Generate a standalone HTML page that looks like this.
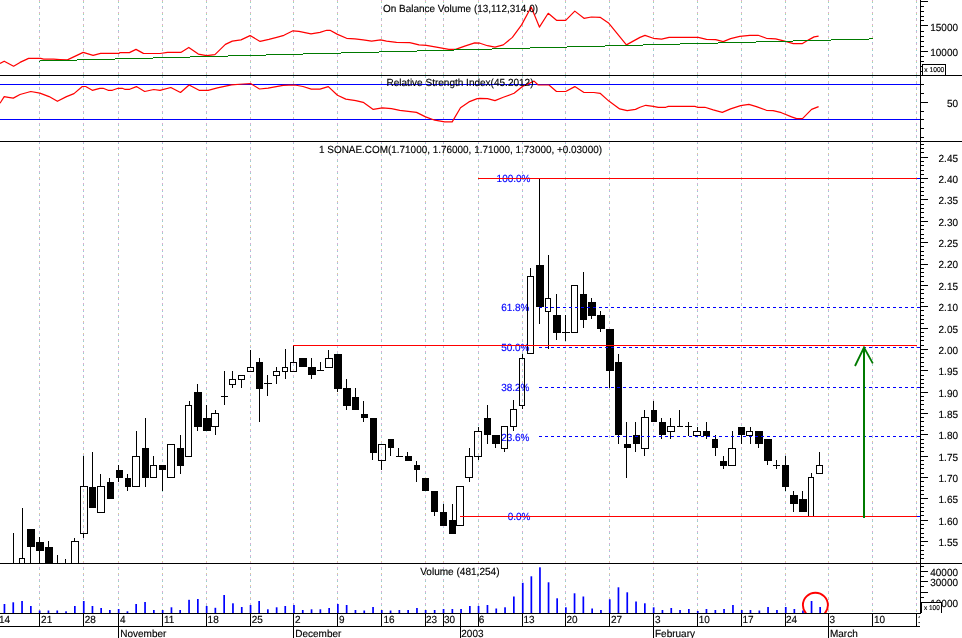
<!DOCTYPE html>
<html><head><meta charset="utf-8"><title>SONAE.COM chart</title>
<style>html,body{margin:0;padding:0;background:#fff}svg{display:block}svg{will-change:transform}text{white-space:pre}</style></head>
<body>
<svg width="962" height="638" viewBox="0 0 962 638" font-family='"Liberation Sans", Arial, sans-serif' text-rendering="geometricPrecision">
<defs><pattern id="g1" patternUnits="userSpaceOnUse" width="1" height="12"><rect width="1" height="1" y="0" fill="#dca6dc"/><rect width="1" height="1" y="1" fill="#d6d694"/><rect width="1" height="1" y="2" fill="#92d2d2"/><rect width="1" height="1" y="6" fill="#92d2d2"/><rect width="1" height="1" y="7" fill="#dca6dc"/><rect width="1" height="1" y="8" fill="#c4c4c4"/></pattern><pattern id="g2" patternUnits="userSpaceOnUse" width="1" height="12" patternTransform="translate(0 3)"><rect width="1" height="1" y="0" fill="#dca6dc"/><rect width="1" height="1" y="1" fill="#c4c4c4"/><rect width="1" height="1" y="2" fill="#92d2d2"/><rect width="1" height="1" y="6" fill="#d6d694"/><rect width="1" height="1" y="7" fill="#dca6dc"/><rect width="1" height="1" y="8" fill="#92d2d2"/></pattern><clipPath id="cm"><rect x="0" y="142" width="920" height="421"/></clipPath><clipPath id="cv"><rect x="0" y="564" width="920" height="49"/></clipPath></defs>
<rect width="962" height="638" fill="#fff"/>
<rect x="39" y="0" width="1" height="75" fill="url(#g1)"/><rect x="39" y="75" width="1" height="538" fill="url(#g2)"/>
<rect x="83" y="0" width="1" height="75" fill="url(#g1)"/><rect x="83" y="75" width="1" height="538" fill="url(#g2)"/>
<rect x="118" y="0" width="1" height="75" fill="url(#g1)"/><rect x="118" y="75" width="1" height="538" fill="url(#g2)"/>
<rect x="162" y="0" width="1" height="75" fill="url(#g1)"/><rect x="162" y="75" width="1" height="538" fill="url(#g2)"/>
<rect x="206" y="0" width="1" height="75" fill="url(#g1)"/><rect x="206" y="75" width="1" height="538" fill="url(#g2)"/>
<rect x="250" y="0" width="1" height="75" fill="url(#g1)"/><rect x="250" y="75" width="1" height="538" fill="url(#g2)"/>
<rect x="293" y="0" width="1" height="75" fill="url(#g1)"/><rect x="293" y="75" width="1" height="538" fill="url(#g2)"/>
<rect x="337" y="0" width="1" height="75" fill="url(#g1)"/><rect x="337" y="75" width="1" height="538" fill="url(#g2)"/>
<rect x="381" y="0" width="1" height="75" fill="url(#g1)"/><rect x="381" y="75" width="1" height="538" fill="url(#g2)"/>
<rect x="425" y="0" width="1" height="75" fill="url(#g1)"/><rect x="425" y="75" width="1" height="538" fill="url(#g2)"/>
<rect x="443" y="0" width="1" height="75" fill="url(#g1)"/><rect x="443" y="75" width="1" height="538" fill="url(#g2)"/>
<rect x="478" y="0" width="1" height="75" fill="url(#g1)"/><rect x="478" y="75" width="1" height="538" fill="url(#g2)"/>
<rect x="522" y="0" width="1" height="75" fill="url(#g1)"/><rect x="522" y="75" width="1" height="538" fill="url(#g2)"/>
<rect x="565" y="0" width="1" height="75" fill="url(#g1)"/><rect x="565" y="75" width="1" height="538" fill="url(#g2)"/>
<rect x="609" y="0" width="1" height="75" fill="url(#g1)"/><rect x="609" y="75" width="1" height="538" fill="url(#g2)"/>
<rect x="653" y="0" width="1" height="75" fill="url(#g1)"/><rect x="653" y="75" width="1" height="538" fill="url(#g2)"/>
<rect x="697" y="0" width="1" height="75" fill="url(#g1)"/><rect x="697" y="75" width="1" height="538" fill="url(#g2)"/>
<rect x="741" y="0" width="1" height="75" fill="url(#g1)"/><rect x="741" y="75" width="1" height="538" fill="url(#g2)"/>
<rect x="785" y="0" width="1" height="75" fill="url(#g1)"/><rect x="785" y="75" width="1" height="538" fill="url(#g2)"/>
<rect x="828" y="0" width="1" height="75" fill="url(#g1)"/><rect x="828" y="75" width="1" height="538" fill="url(#g2)"/>
<rect x="872" y="0" width="1" height="75" fill="url(#g1)"/><rect x="872" y="75" width="1" height="538" fill="url(#g2)"/>
<rect x="916" y="0" width="1" height="75" fill="url(#g1)"/><rect x="916" y="75" width="1" height="538" fill="url(#g2)"/>
<polyline fill="none" stroke="#ff0000" stroke-width="1.2" stroke-linejoin="round" points="0.0,63.5 4.2,61.2 13.6,66.2 20.0,62.4 28.6,58.4 40.7,58.4 43.6,59.2 53.6,59.2 60.0,59.6 67.4,59.9 83.2,52.4 93.1,55.4 100.6,53.4 118.9,53.4 120.0,52.6 129.4,52.6 136.0,49.4 143.4,53.4 160.0,53.5 167.5,52.4 180.8,52.4 188.8,47.4 198.3,54.1 206.6,55.7 214.9,54.6 225.4,44.4 232.3,41.1 241.0,39.9 250.1,35.6 260.1,41.4 268.9,39.4 276.7,37.3 283.9,35.3 293.0,30.8 298.9,31.3 311.0,33.8 320.0,32.4 326.7,30.3 330.0,30.3 337.5,34.4 346.6,38.3 354.9,38.8 363.2,39.9 371.6,41.1 380.7,39.9 386.5,41.1 396.5,42.4 409.8,42.6 419.0,44.9 426.4,45.4 436.4,47.1 448.9,49.4 455.6,49.4 464.7,46.1 474.7,42.9 480.0,43.2 487.5,45.7 495.0,47.2 503.3,44.9 512.4,37.4 521.6,24.9 531.2,7.0 539.4,27.1 548.2,13.3 556.5,20.3 565.7,20.3 574.8,11.1 584.0,18.3 591.4,17.0 600.1,17.3 608.9,23.3 626.4,44.9 640.0,37.4 645.0,35.4 653.3,38.3 661.6,39.1 669.1,37.4 698.2,37.4 706.5,39.4 715.7,39.6 723.2,41.6 730.6,38.6 739.8,36.3 749.8,35.3 758.1,35.3 766.4,38.3 775.6,38.8 784.7,41.2 793.3,43.6 802.5,43.6 809.1,39.6 814.1,36.9 818.6,36.1"/>
<path fill="#007a00" shape-rendering="crispEdges" d="M39 61h1v1.2h-1zM40 60h37v1.2h-37zM77 59h38v1.2h-38zM115 58h38v1.2h-38zM153 57h37v1.2h-37zM190 56h38v1.2h-38zM228 55h38v1.2h-38zM266 54h37v1.2h-37zM303 53h38v1.2h-38zM341 52h38v1.2h-38zM379 51h38v1.2h-38zM417 50h37v1.2h-37zM454 49h38v1.2h-38zM492 48h38v1.2h-38zM530 47h37v1.2h-37zM567 46h38v1.2h-38zM605 45h38v1.2h-38zM643 44h37v1.2h-37zM680 43h38v1.2h-38zM718 42h38v1.2h-38zM756 41h37v1.2h-37zM793 40h38v1.2h-38zM831 39h38v1.2h-38zM869 38h4v1.2h-4z"/>
<g shape-rendering="crispEdges"><rect x="0" y="84" width="920" height="1" fill="#0000ff"/><rect x="0" y="119" width="920" height="1" fill="#0000ff"/></g>
<polyline fill="none" stroke="#ff0000" stroke-width="1.2" stroke-linejoin="round" points="0.0,103.3 4.2,96.6 8.3,97.3 13.3,98.1 20.0,94.5 30.8,91.5 39.9,93.1 49.1,96.6 57.4,101.3 66.5,96.6 74.0,93.6 82.3,86.5 85.7,86.5 92.3,90.3 99.8,88.3 103.1,88.3 108.1,90.3 112.3,90.3 118.1,88.3 122.2,88.3 124.7,89.3 129.7,89.3 136.4,86.6 144.7,91.5 153.8,89.5 160.0,90.3 170.8,87.5 180.5,92.5 189.1,85.0 199.1,90.3 208.2,90.3 217.4,87.8 231.5,84.8 243.2,84.0 250.6,83.6 259.5,89.0 268.1,88.1 283.1,85.3 294.7,85.0 303.0,86.5 311.3,89.1 320.0,89.1 328.3,86.6 337.5,95.3 345.8,99.1 355.8,100.6 363.2,102.3 373.2,109.4 382.4,107.8 391.5,108.6 399.8,110.3 408.2,111.4 416.5,112.4 425.6,116.9 434.8,120.2 444.7,121.9 452.2,121.9 460.5,107.8 468.9,101.9 477.2,98.6 480.0,98.3 487.5,98.6 495.0,100.6 503.3,97.3 514.1,93.3 522.4,86.5 534.1,81.1 538.2,85.0 549.0,85.0 556.5,91.5 565.7,91.5 574.8,86.6 584.0,92.5 593.9,92.5 600.1,93.3 608.9,101.1 619.7,108.9 627.2,110.6 635.5,109.4 640.0,107.3 645.8,105.3 653.3,106.4 658.3,107.4 665.8,107.3 668.3,106.4 694.9,106.4 697.4,107.3 704.9,107.3 713.2,109.9 722.3,112.4 730.6,108.9 740.6,105.6 748.9,104.4 756.4,106.6 766.4,110.3 773.1,110.6 781.4,112.7 791.6,116.9 796.6,118.6 802.5,118.6 811.6,109.4 818.6,106.6"/>
<text transform="translate(530.5 182) scale(0.97 1)" font-size="10.3" fill="#0000ff" stroke="#0000ff" stroke-width="0.15" text-anchor="end">100.0%</text>
<text transform="translate(529.5 311) scale(0.97 1)" font-size="10.3" fill="#0000ff" stroke="#0000ff" stroke-width="0.15" text-anchor="end">61.8%</text>
<text transform="translate(529.5 351) scale(0.97 1)" font-size="10.3" fill="#0000ff" stroke="#0000ff" stroke-width="0.15" text-anchor="end">50.0%</text>
<text transform="translate(529.5 391) scale(0.97 1)" font-size="10.3" fill="#0000ff" stroke="#0000ff" stroke-width="0.15" text-anchor="end">38.2%</text>
<text transform="translate(529.5 441) scale(0.97 1)" font-size="10.3" fill="#0000ff" stroke="#0000ff" stroke-width="0.15" text-anchor="end">23.6%</text>
<text transform="translate(530.5 520) scale(0.97 1)" font-size="10.3" fill="#0000ff" stroke="#0000ff" stroke-width="0.15" text-anchor="end">0.0%</text>
<g clip-path="url(#cm)" shape-rendering="crispEdges">
<rect x="13" y="533" width="1" height="30" fill="#000"/>
<rect x="22" y="508" width="1" height="50" fill="#000"/>
<rect x="19.5" y="558.5" width="5" height="7" fill="none" stroke="#000" stroke-width="1"/>
<rect x="30" y="547" width="1" height="16" fill="#000"/>
<rect x="27" y="529" width="8" height="18" fill="#000"/>
<rect x="39" y="537" width="1" height="5" fill="#000"/>
<rect x="39" y="551" width="1" height="12" fill="#000"/>
<rect x="36" y="542" width="8" height="9" fill="#000"/>
<rect x="48" y="541" width="1" height="6" fill="#000"/>
<rect x="45" y="547" width="8" height="19" fill="#000"/>
<rect x="57" y="555" width="1" height="8" fill="#000"/>
<rect x="65" y="559" width="1" height="4" fill="#000"/>
<rect x="74" y="538" width="1" height="3" fill="#000"/>
<rect x="71.5" y="541.5" width="7" height="24" fill="none" stroke="#000" stroke-width="1"/>
<rect x="83" y="456" width="1" height="30" fill="#000"/>
<rect x="83" y="534" width="1" height="4" fill="#000"/>
<rect x="80.5" y="486.5" width="7" height="47" fill="none" stroke="#000" stroke-width="1"/>
<rect x="92" y="452" width="1" height="35" fill="#000"/>
<rect x="89" y="487" width="7" height="21" fill="#000"/>
<rect x="100" y="474" width="1" height="12" fill="#000"/>
<rect x="97.5" y="486.5" width="7" height="26" fill="none" stroke="#000" stroke-width="1"/>
<rect x="109" y="478" width="1" height="4" fill="#000"/>
<rect x="107" y="482" width="7" height="17" fill="#000"/>
<rect x="118" y="465" width="1" height="5" fill="#000"/>
<rect x="118" y="478" width="1" height="4" fill="#000"/>
<rect x="116" y="470" width="7" height="8" fill="#000"/>
<rect x="127" y="474" width="1" height="4" fill="#000"/>
<rect x="127" y="487" width="1" height="4" fill="#000"/>
<rect x="125" y="478" width="6" height="9" fill="#000"/>
<rect x="136" y="431" width="1" height="25" fill="#000"/>
<rect x="132.5" y="456.5" width="7" height="30" fill="none" stroke="#000" stroke-width="1"/>
<rect x="145" y="418" width="1" height="30" fill="#000"/>
<rect x="145" y="478" width="1" height="9" fill="#000"/>
<rect x="142" y="448" width="7" height="30" fill="#000"/>
<rect x="153" y="456" width="1" height="9" fill="#000"/>
<rect x="150.5" y="465.5" width="6" height="12" fill="none" stroke="#000" stroke-width="1"/>
<rect x="162" y="470" width="1" height="21" fill="#000"/>
<rect x="159" y="465" width="7" height="5" fill="#000"/>
<rect x="167.5" y="444.5" width="7" height="33" fill="none" stroke="#000" stroke-width="1"/>
<rect x="180" y="435" width="1" height="13" fill="#000"/>
<rect x="180" y="466" width="1" height="8" fill="#000"/>
<rect x="177" y="448" width="7" height="18" fill="#000"/>
<rect x="189" y="401" width="1" height="4" fill="#000"/>
<rect x="185.5" y="405.5" width="6" height="51" fill="none" stroke="#000" stroke-width="1"/>
<rect x="197" y="384" width="1" height="8" fill="#000"/>
<rect x="197" y="427" width="1" height="4" fill="#000"/>
<rect x="194" y="392" width="8" height="35" fill="#000"/>
<rect x="206" y="405" width="1" height="13" fill="#000"/>
<rect x="203" y="418" width="8" height="13" fill="#000"/>
<rect x="215" y="410" width="1" height="3" fill="#000"/>
<rect x="215" y="427" width="1" height="8" fill="#000"/>
<rect x="211.5" y="413.5" width="7" height="13" fill="none" stroke="#000" stroke-width="1"/>
<rect x="224" y="371" width="1" height="34" fill="#000"/>
<rect x="221" y="396" width="7" height="1" fill="#000"/>
<rect x="232" y="371" width="1" height="8" fill="#000"/>
<rect x="232" y="385" width="1" height="3" fill="#000"/>
<rect x="229.5" y="379.5" width="6" height="5" fill="none" stroke="#000" stroke-width="1"/>
<rect x="241" y="380" width="1" height="8" fill="#000"/>
<rect x="238.5" y="375.5" width="6" height="4" fill="none" stroke="#000" stroke-width="1"/>
<rect x="250" y="350" width="1" height="17" fill="#000"/>
<rect x="247.5" y="367.5" width="6" height="4" fill="none" stroke="#000" stroke-width="1"/>
<rect x="259" y="358" width="1" height="4" fill="#000"/>
<rect x="259" y="389" width="1" height="33" fill="#000"/>
<rect x="256" y="362" width="7" height="27" fill="#000"/>
<rect x="267" y="375" width="1" height="21" fill="#000"/>
<rect x="264" y="383" width="8" height="1" fill="#000"/>
<rect x="276" y="367" width="1" height="4" fill="#000"/>
<rect x="276" y="376" width="1" height="8" fill="#000"/>
<rect x="273.5" y="371.5" width="6" height="4" fill="none" stroke="#000" stroke-width="1"/>
<rect x="285" y="349" width="1" height="18" fill="#000"/>
<rect x="285" y="372" width="1" height="7" fill="#000"/>
<rect x="282.5" y="367.5" width="5" height="4" fill="none" stroke="#000" stroke-width="1"/>
<rect x="293" y="345" width="1" height="17" fill="#000"/>
<rect x="290.5" y="362.5" width="6" height="9" fill="none" stroke="#000" stroke-width="1"/>
<rect x="299" y="358" width="8" height="9" fill="#000"/>
<rect x="311" y="358" width="1" height="9" fill="#000"/>
<rect x="311" y="375" width="1" height="4" fill="#000"/>
<rect x="308" y="367" width="8" height="8" fill="#000"/>
<rect x="320" y="362" width="1" height="9" fill="#000"/>
<rect x="317" y="370" width="7" height="1" fill="#000"/>
<rect x="328" y="350" width="1" height="8" fill="#000"/>
<rect x="325.5" y="358.5" width="7" height="9" fill="none" stroke="#000" stroke-width="1"/>
<rect x="337" y="389" width="1" height="3" fill="#000"/>
<rect x="334" y="354" width="8" height="35" fill="#000"/>
<rect x="346" y="379" width="1" height="9" fill="#000"/>
<rect x="346" y="406" width="1" height="4" fill="#000"/>
<rect x="343" y="388" width="8" height="18" fill="#000"/>
<rect x="355" y="388" width="1" height="9" fill="#000"/>
<rect x="352" y="397" width="7" height="13" fill="#000"/>
<rect x="363" y="401" width="1" height="13" fill="#000"/>
<rect x="363" y="418" width="1" height="4" fill="#000"/>
<rect x="361" y="414" width="7" height="4" fill="#000"/>
<rect x="372" y="453" width="1" height="7" fill="#000"/>
<rect x="370" y="418" width="7" height="35" fill="#000"/>
<rect x="381" y="461" width="1" height="9" fill="#000"/>
<rect x="378.5" y="444.5" width="7" height="16" fill="none" stroke="#000" stroke-width="1"/>
<rect x="390" y="448" width="1" height="8" fill="#000"/>
<rect x="388" y="439" width="6" height="9" fill="#000"/>
<rect x="398" y="448" width="1" height="9" fill="#000"/>
<rect x="396" y="456" width="7" height="1" fill="#000"/>
<rect x="407" y="452" width="1" height="4" fill="#000"/>
<rect x="405" y="456" width="7" height="5" fill="#000"/>
<rect x="416" y="461" width="1" height="4" fill="#000"/>
<rect x="416" y="470" width="1" height="12" fill="#000"/>
<rect x="414" y="465" width="6" height="5" fill="#000"/>
<rect x="422" y="478" width="7" height="13" fill="#000"/>
<rect x="434" y="512" width="1" height="4" fill="#000"/>
<rect x="431" y="491" width="7" height="21" fill="#000"/>
<rect x="443" y="504" width="1" height="8" fill="#000"/>
<rect x="440" y="512" width="7" height="14" fill="#000"/>
<rect x="452" y="504" width="1" height="16" fill="#000"/>
<rect x="449" y="520" width="7" height="14" fill="#000"/>
<rect x="456.5" y="486.5" width="7" height="39" fill="none" stroke="#000" stroke-width="1"/>
<rect x="469" y="448" width="1" height="8" fill="#000"/>
<rect x="469" y="478" width="1" height="4" fill="#000"/>
<rect x="465.5" y="456.5" width="7" height="21" fill="none" stroke="#000" stroke-width="1"/>
<rect x="478" y="427" width="1" height="4" fill="#000"/>
<rect x="478" y="457" width="1" height="3" fill="#000"/>
<rect x="474.5" y="431.5" width="7" height="25" fill="none" stroke="#000" stroke-width="1"/>
<rect x="487" y="405" width="1" height="13" fill="#000"/>
<rect x="487" y="435" width="1" height="9" fill="#000"/>
<rect x="484" y="418" width="7" height="17" fill="#000"/>
<rect x="495" y="444" width="1" height="4" fill="#000"/>
<rect x="492" y="435" width="8" height="9" fill="#000"/>
<rect x="504" y="449" width="1" height="3" fill="#000"/>
<rect x="501.5" y="426.5" width="6" height="22" fill="none" stroke="#000" stroke-width="1"/>
<rect x="513" y="400" width="1" height="9" fill="#000"/>
<rect x="513" y="427" width="1" height="4" fill="#000"/>
<rect x="510.5" y="409.5" width="6" height="17" fill="none" stroke="#000" stroke-width="1"/>
<rect x="522" y="354" width="1" height="4" fill="#000"/>
<rect x="522" y="406" width="1" height="3" fill="#000"/>
<rect x="519.5" y="358.5" width="5" height="47" fill="none" stroke="#000" stroke-width="1"/>
<rect x="530" y="268" width="1" height="8" fill="#000"/>
<rect x="527.5" y="276.5" width="6" height="77" fill="none" stroke="#000" stroke-width="1"/>
<rect x="539" y="178" width="1" height="87" fill="#000"/>
<rect x="539" y="307" width="1" height="17" fill="#000"/>
<rect x="536" y="265" width="8" height="42" fill="#000"/>
<rect x="548" y="255" width="1" height="43" fill="#000"/>
<rect x="548" y="312" width="1" height="37" fill="#000"/>
<rect x="545.5" y="298.5" width="5" height="13" fill="none" stroke="#000" stroke-width="1"/>
<rect x="556" y="294" width="1" height="21" fill="#000"/>
<rect x="556" y="333" width="1" height="7" fill="#000"/>
<rect x="553" y="315" width="8" height="18" fill="#000"/>
<rect x="565" y="315" width="1" height="26" fill="#000"/>
<rect x="562" y="332" width="8" height="1" fill="#000"/>
<rect x="571.5" y="285.5" width="6" height="47" fill="none" stroke="#000" stroke-width="1"/>
<rect x="583" y="272" width="1" height="22" fill="#000"/>
<rect x="583" y="320" width="1" height="8" fill="#000"/>
<rect x="580" y="294" width="7" height="26" fill="#000"/>
<rect x="591" y="298" width="1" height="4" fill="#000"/>
<rect x="591" y="316" width="1" height="3" fill="#000"/>
<rect x="588" y="302" width="8" height="14" fill="#000"/>
<rect x="600" y="311" width="1" height="4" fill="#000"/>
<rect x="600" y="329" width="1" height="3" fill="#000"/>
<rect x="597" y="315" width="8" height="14" fill="#000"/>
<rect x="609" y="371" width="1" height="17" fill="#000"/>
<rect x="606" y="329" width="8" height="42" fill="#000"/>
<rect x="618" y="354" width="1" height="8" fill="#000"/>
<rect x="618" y="435" width="1" height="9" fill="#000"/>
<rect x="615" y="362" width="7" height="73" fill="#000"/>
<rect x="626" y="422" width="1" height="22" fill="#000"/>
<rect x="626" y="448" width="1" height="30" fill="#000"/>
<rect x="624" y="444" width="7" height="4" fill="#000"/>
<rect x="635" y="422" width="1" height="13" fill="#000"/>
<rect x="635" y="444" width="1" height="8" fill="#000"/>
<rect x="633" y="435" width="7" height="9" fill="#000"/>
<rect x="644" y="410" width="1" height="7" fill="#000"/>
<rect x="644" y="449" width="1" height="7" fill="#000"/>
<rect x="641.5" y="417.5" width="7" height="31" fill="none" stroke="#000" stroke-width="1"/>
<rect x="653" y="401" width="1" height="9" fill="#000"/>
<rect x="651" y="410" width="6" height="12" fill="#000"/>
<rect x="661" y="418" width="1" height="4" fill="#000"/>
<rect x="661" y="435" width="1" height="4" fill="#000"/>
<rect x="659" y="422" width="7" height="13" fill="#000"/>
<rect x="670" y="418" width="1" height="8" fill="#000"/>
<rect x="670" y="432" width="1" height="7" fill="#000"/>
<rect x="667.5" y="426.5" width="7" height="5" fill="none" stroke="#000" stroke-width="1"/>
<rect x="679" y="410" width="1" height="17" fill="#000"/>
<rect x="677" y="426" width="6" height="1" fill="#000"/>
<rect x="688" y="422" width="1" height="14" fill="#000"/>
<rect x="685" y="426" width="7" height="1" fill="#000"/>
<rect x="697" y="427" width="1" height="4" fill="#000"/>
<rect x="693.5" y="431.5" width="7" height="4" fill="none" stroke="#000" stroke-width="1"/>
<rect x="706" y="422" width="1" height="9" fill="#000"/>
<rect x="706" y="436" width="1" height="3" fill="#000"/>
<rect x="703" y="431" width="7" height="5" fill="#000"/>
<rect x="715" y="435" width="1" height="4" fill="#000"/>
<rect x="715" y="448" width="1" height="8" fill="#000"/>
<rect x="712" y="439" width="6" height="9" fill="#000"/>
<rect x="723" y="456" width="1" height="5" fill="#000"/>
<rect x="723" y="466" width="1" height="3" fill="#000"/>
<rect x="720" y="461" width="7" height="5" fill="#000"/>
<rect x="732" y="431" width="1" height="17" fill="#000"/>
<rect x="728.5" y="448.5" width="7" height="17" fill="none" stroke="#000" stroke-width="1"/>
<rect x="741" y="435" width="1" height="9" fill="#000"/>
<rect x="738" y="427" width="7" height="8" fill="#000"/>
<rect x="750" y="427" width="1" height="4" fill="#000"/>
<rect x="750" y="436" width="1" height="8" fill="#000"/>
<rect x="746.5" y="431.5" width="6" height="4" fill="none" stroke="#000" stroke-width="1"/>
<rect x="758" y="444" width="1" height="4" fill="#000"/>
<rect x="755" y="431" width="8" height="13" fill="#000"/>
<rect x="767" y="461" width="1" height="4" fill="#000"/>
<rect x="764" y="439" width="8" height="22" fill="#000"/>
<rect x="776" y="460" width="1" height="9" fill="#000"/>
<rect x="773" y="465" width="7" height="1" fill="#000"/>
<rect x="785" y="456" width="1" height="9" fill="#000"/>
<rect x="785" y="487" width="1" height="4" fill="#000"/>
<rect x="782" y="465" width="7" height="22" fill="#000"/>
<rect x="793" y="491" width="1" height="4" fill="#000"/>
<rect x="793" y="504" width="1" height="8" fill="#000"/>
<rect x="790" y="495" width="8" height="9" fill="#000"/>
<rect x="802" y="491" width="1" height="8" fill="#000"/>
<rect x="799" y="499" width="8" height="13" fill="#000"/>
<rect x="811" y="473" width="1" height="4" fill="#000"/>
<rect x="808.5" y="477.5" width="5" height="39" fill="none" stroke="#000" stroke-width="1"/>
<rect x="819" y="452" width="1" height="13" fill="#000"/>
<rect x="816.5" y="465.5" width="6" height="8" fill="none" stroke="#000" stroke-width="1"/>
</g>
<g shape-rendering="crispEdges">
<line x1="539" y1="307.5" x2="920" y2="307.5" stroke="#0000ff" stroke-width="1" stroke-dasharray="3 3"/>
<line x1="539" y1="347.5" x2="920" y2="347.5" stroke="#0000ff" stroke-width="1" stroke-dasharray="3 3"/>
<line x1="539" y1="387.5" x2="920" y2="387.5" stroke="#0000ff" stroke-width="1" stroke-dasharray="3 3"/>
<line x1="539" y1="436.5" x2="920" y2="436.5" stroke="#0000ff" stroke-width="1" stroke-dasharray="3 3"/>
</g>
<g shape-rendering="crispEdges">
<rect x="478" y="178" width="439" height="1" fill="#ff0000"/><rect x="917" y="178" width="3" height="1" fill="#0000ff"/>
<rect x="460" y="516" width="457" height="1" fill="#ff0000"/><rect x="917" y="516" width="3" height="1" fill="#0000ff"/>
<rect x="293" y="345" width="624" height="1" fill="#ff0000"/>
</g>
<g stroke="#007a00" fill="none" stroke-linecap="butt"><line x1="864" y1="347" x2="864" y2="517.5" stroke-width="2" shape-rendering="crispEdges"/><polyline points="855,366 864,347.5 872.8,363.4" stroke-linejoin="miter" stroke-width="1.8"/></g>
<g clip-path="url(#cv)">
<g fill="#0000ff">
<rect x="3.6" y="604.0" width="1.7" height="9.0"/>
<rect x="12.4" y="602.3" width="1.7" height="10.7"/>
<rect x="21.2" y="601.0" width="1.7" height="12.0"/>
<rect x="30.0" y="606.0" width="1.7" height="7.0"/>
<rect x="38.8" y="610.5" width="1.7" height="2.5"/>
<rect x="47.6" y="610.5" width="1.7" height="2.5"/>
<rect x="56.4" y="610.5" width="1.7" height="2.5"/>
<rect x="65.2" y="611.3" width="1.7" height="1.7"/>
<rect x="74.0" y="606.0" width="1.7" height="7.0"/>
<rect x="82.9" y="601.0" width="1.7" height="12.0"/>
<rect x="91.6" y="606.0" width="1.7" height="7.0"/>
<rect x="100.3" y="608.0" width="1.7" height="5.0"/>
<rect x="109.0" y="610.0" width="1.7" height="3.0"/>
<rect x="117.8" y="609.0" width="1.7" height="4.0"/>
<rect x="126.6" y="611.3" width="1.7" height="1.7"/>
<rect x="135.3" y="604.0" width="1.7" height="9.0"/>
<rect x="144.2" y="602.0" width="1.7" height="11.0"/>
<rect x="153.0" y="610.0" width="1.7" height="3.0"/>
<rect x="161.8" y="610.0" width="1.7" height="3.0"/>
<rect x="170.6" y="607.3" width="1.7" height="5.7"/>
<rect x="179.3" y="610.0" width="1.7" height="3.0"/>
<rect x="188.2" y="599.8" width="1.7" height="13.2"/>
<rect x="197.0" y="599.0" width="1.7" height="14.0"/>
<rect x="205.8" y="606.0" width="1.7" height="7.0"/>
<rect x="214.5" y="607.8" width="1.7" height="5.2"/>
<rect x="223.3" y="595.0" width="1.7" height="18.0"/>
<rect x="232.1" y="603.3" width="1.7" height="9.7"/>
<rect x="240.9" y="607.0" width="1.7" height="6.0"/>
<rect x="249.7" y="605.0" width="1.7" height="8.0"/>
<rect x="258.3" y="601.0" width="1.7" height="12.0"/>
<rect x="267.0" y="609.3" width="1.7" height="3.7"/>
<rect x="275.8" y="607.3" width="1.7" height="5.7"/>
<rect x="284.4" y="606.0" width="1.7" height="7.0"/>
<rect x="293.1" y="605.0" width="1.7" height="8.0"/>
<rect x="301.9" y="610.0" width="1.7" height="3.0"/>
<rect x="310.7" y="609.3" width="1.7" height="3.7"/>
<rect x="319.5" y="609.3" width="1.7" height="3.7"/>
<rect x="328.3" y="608.0" width="1.7" height="5.0"/>
<rect x="337.0" y="604.0" width="1.7" height="9.0"/>
<rect x="345.8" y="605.0" width="1.7" height="8.0"/>
<rect x="354.6" y="610.0" width="1.7" height="3.0"/>
<rect x="363.4" y="610.5" width="1.7" height="2.5"/>
<rect x="372.2" y="607.0" width="1.7" height="6.0"/>
<rect x="380.9" y="610.0" width="1.7" height="3.0"/>
<rect x="389.7" y="610.5" width="1.7" height="2.5"/>
<rect x="398.5" y="610.0" width="1.7" height="3.0"/>
<rect x="407.3" y="610.0" width="1.7" height="3.0"/>
<rect x="416.1" y="608.0" width="1.7" height="5.0"/>
<rect x="424.8" y="610.0" width="1.7" height="3.0"/>
<rect x="433.8" y="610.0" width="1.7" height="3.0"/>
<rect x="442.7" y="609.0" width="1.7" height="4.0"/>
<rect x="451.5" y="609.0" width="1.7" height="4.0"/>
<rect x="460.2" y="609.0" width="1.7" height="4.0"/>
<rect x="469.0" y="606.0" width="1.7" height="7.0"/>
<rect x="477.7" y="606.0" width="1.7" height="7.0"/>
<rect x="486.6" y="605.0" width="1.7" height="8.0"/>
<rect x="495.4" y="608.5" width="1.7" height="4.5"/>
<rect x="504.2" y="607.3" width="1.7" height="5.7"/>
<rect x="513.0" y="596.5" width="1.7" height="16.5"/>
<rect x="521.9" y="582.8" width="1.7" height="30.2"/>
<rect x="530.5" y="576.3" width="1.7" height="36.7"/>
<rect x="539.1" y="567.3" width="1.7" height="45.7"/>
<rect x="547.7" y="582.3" width="1.7" height="30.7"/>
<rect x="556.3" y="598.3" width="1.7" height="14.7"/>
<rect x="565.0" y="607.3" width="1.7" height="5.7"/>
<rect x="573.7" y="593.3" width="1.7" height="19.7"/>
<rect x="582.5" y="596.5" width="1.7" height="16.5"/>
<rect x="591.3" y="608.5" width="1.7" height="4.5"/>
<rect x="600.1" y="610.0" width="1.7" height="3.0"/>
<rect x="608.9" y="599.3" width="1.7" height="13.7"/>
<rect x="617.6" y="587.3" width="1.7" height="25.7"/>
<rect x="626.4" y="592.3" width="1.7" height="20.7"/>
<rect x="635.2" y="601.5" width="1.7" height="11.5"/>
<rect x="644.0" y="603.3" width="1.7" height="9.7"/>
<rect x="652.8" y="607.3" width="1.7" height="5.7"/>
<rect x="661.6" y="610.0" width="1.7" height="3.0"/>
<rect x="670.4" y="608.0" width="1.7" height="5.0"/>
<rect x="679.2" y="610.0" width="1.7" height="3.0"/>
<rect x="688.0" y="609.0" width="1.7" height="4.0"/>
<rect x="696.9" y="611.0" width="1.7" height="2.0"/>
<rect x="705.6" y="609.0" width="1.7" height="4.0"/>
<rect x="714.5" y="610.0" width="1.7" height="3.0"/>
<rect x="723.2" y="609.0" width="1.7" height="4.0"/>
<rect x="732.1" y="605.0" width="1.7" height="8.0"/>
<rect x="740.9" y="610.0" width="1.7" height="3.0"/>
<rect x="749.6" y="610.0" width="1.7" height="3.0"/>
<rect x="758.5" y="610.5" width="1.7" height="2.5"/>
<rect x="767.2" y="607.0" width="1.7" height="6.0"/>
<rect x="776.1" y="610.0" width="1.7" height="3.0"/>
<rect x="784.9" y="607.0" width="1.7" height="6.0"/>
<rect x="793.5" y="609.0" width="1.7" height="4.0"/>
<rect x="802.1" y="610.5" width="1.7" height="2.5"/>
<rect x="810.7" y="601.0" width="1.7" height="12.0"/>
<rect x="819.3" y="607.0" width="1.7" height="6.0"/>
</g>
<circle cx="815.4" cy="605.2" r="12.5" fill="none" stroke="#ff0000" stroke-width="1.9"/>
</g>
<g shape-rendering="crispEdges" fill="#000">
<rect x="0" y="75" width="962" height="1"/>
<rect x="0" y="141" width="962" height="1"/>
<rect x="0" y="563" width="962" height="1"/>
<rect x="0" y="613" width="920" height="1"/><rect x="0" y="626" width="920" height="1"/>
<rect x="920" y="0" width="1" height="614"/>
<rect x="921" y="1" width="7" height="1"/>
<rect x="921" y="6" width="3" height="1"/>
<rect x="921" y="11" width="3" height="1"/>
<rect x="921" y="16" width="3" height="1"/>
<rect x="921" y="20" width="3" height="1"/>
<rect x="921" y="25" width="7" height="1"/>
<rect x="921" y="31" width="3" height="1"/>
<rect x="921" y="36" width="3" height="1"/>
<rect x="921" y="41" width="3" height="1"/>
<rect x="921" y="46" width="3" height="1"/>
<rect x="921" y="51" width="7" height="1"/>
<rect x="921" y="56" width="3" height="1"/>
<rect x="921" y="61" width="3" height="1"/>
<rect x="921" y="66" width="3" height="1"/>
<rect x="921" y="71" width="3" height="1"/>
<rect x="921" y="84" width="3" height="1"/>
<rect x="921" y="93" width="3" height="1"/>
<rect x="921" y="102" width="7" height="1"/>
<rect x="921" y="111" width="3" height="1"/>
<rect x="921" y="119" width="3" height="1"/>
<rect x="921" y="128" width="3" height="1"/>
<rect x="921" y="137" width="3" height="1"/>
<rect x="921" y="558" width="3" height="1"/>
<rect x="921" y="554" width="3" height="1"/>
<rect x="921" y="550" width="3" height="1"/>
<rect x="921" y="545" width="3" height="1"/>
<rect x="921" y="541" width="7" height="1"/>
<rect x="921" y="537" width="3" height="1"/>
<rect x="921" y="533" width="3" height="1"/>
<rect x="921" y="528" width="3" height="1"/>
<rect x="921" y="524" width="3" height="1"/>
<rect x="921" y="520" width="7" height="1"/>
<rect x="921" y="515" width="3" height="1"/>
<rect x="921" y="511" width="3" height="1"/>
<rect x="921" y="507" width="3" height="1"/>
<rect x="921" y="503" width="3" height="1"/>
<rect x="921" y="498" width="7" height="1"/>
<rect x="921" y="494" width="3" height="1"/>
<rect x="921" y="490" width="3" height="1"/>
<rect x="921" y="486" width="3" height="1"/>
<rect x="921" y="481" width="3" height="1"/>
<rect x="921" y="477" width="7" height="1"/>
<rect x="921" y="473" width="3" height="1"/>
<rect x="921" y="468" width="3" height="1"/>
<rect x="921" y="464" width="3" height="1"/>
<rect x="921" y="460" width="3" height="1"/>
<rect x="921" y="456" width="7" height="1"/>
<rect x="921" y="451" width="3" height="1"/>
<rect x="921" y="447" width="3" height="1"/>
<rect x="921" y="443" width="3" height="1"/>
<rect x="921" y="439" width="3" height="1"/>
<rect x="921" y="434" width="7" height="1"/>
<rect x="921" y="430" width="3" height="1"/>
<rect x="921" y="426" width="3" height="1"/>
<rect x="921" y="421" width="3" height="1"/>
<rect x="921" y="417" width="3" height="1"/>
<rect x="921" y="413" width="7" height="1"/>
<rect x="921" y="409" width="3" height="1"/>
<rect x="921" y="404" width="3" height="1"/>
<rect x="921" y="400" width="3" height="1"/>
<rect x="921" y="396" width="3" height="1"/>
<rect x="921" y="392" width="7" height="1"/>
<rect x="921" y="387" width="3" height="1"/>
<rect x="921" y="383" width="3" height="1"/>
<rect x="921" y="379" width="3" height="1"/>
<rect x="921" y="375" width="3" height="1"/>
<rect x="921" y="370" width="7" height="1"/>
<rect x="921" y="366" width="3" height="1"/>
<rect x="921" y="362" width="3" height="1"/>
<rect x="921" y="357" width="3" height="1"/>
<rect x="921" y="353" width="3" height="1"/>
<rect x="921" y="349" width="7" height="1"/>
<rect x="921" y="345" width="3" height="1"/>
<rect x="921" y="340" width="3" height="1"/>
<rect x="921" y="336" width="3" height="1"/>
<rect x="921" y="332" width="3" height="1"/>
<rect x="921" y="328" width="7" height="1"/>
<rect x="921" y="323" width="3" height="1"/>
<rect x="921" y="319" width="3" height="1"/>
<rect x="921" y="315" width="3" height="1"/>
<rect x="921" y="310" width="3" height="1"/>
<rect x="921" y="306" width="7" height="1"/>
<rect x="921" y="302" width="3" height="1"/>
<rect x="921" y="298" width="3" height="1"/>
<rect x="921" y="293" width="3" height="1"/>
<rect x="921" y="289" width="3" height="1"/>
<rect x="921" y="285" width="7" height="1"/>
<rect x="921" y="281" width="3" height="1"/>
<rect x="921" y="276" width="3" height="1"/>
<rect x="921" y="272" width="3" height="1"/>
<rect x="921" y="268" width="3" height="1"/>
<rect x="921" y="264" width="7" height="1"/>
<rect x="921" y="259" width="3" height="1"/>
<rect x="921" y="255" width="3" height="1"/>
<rect x="921" y="251" width="3" height="1"/>
<rect x="921" y="246" width="3" height="1"/>
<rect x="921" y="242" width="7" height="1"/>
<rect x="921" y="238" width="3" height="1"/>
<rect x="921" y="234" width="3" height="1"/>
<rect x="921" y="229" width="3" height="1"/>
<rect x="921" y="225" width="3" height="1"/>
<rect x="921" y="221" width="7" height="1"/>
<rect x="921" y="217" width="3" height="1"/>
<rect x="921" y="212" width="3" height="1"/>
<rect x="921" y="208" width="3" height="1"/>
<rect x="921" y="204" width="3" height="1"/>
<rect x="921" y="199" width="7" height="1"/>
<rect x="921" y="195" width="3" height="1"/>
<rect x="921" y="191" width="3" height="1"/>
<rect x="921" y="187" width="3" height="1"/>
<rect x="921" y="182" width="3" height="1"/>
<rect x="921" y="178" width="7" height="1"/>
<rect x="921" y="174" width="3" height="1"/>
<rect x="921" y="170" width="3" height="1"/>
<rect x="921" y="165" width="3" height="1"/>
<rect x="921" y="161" width="3" height="1"/>
<rect x="921" y="157" width="7" height="1"/>
<rect x="921" y="152" width="3" height="1"/>
<rect x="921" y="148" width="3" height="1"/>
<rect x="921" y="144" width="3" height="1"/>
<rect x="921" y="607" width="3" height="1"/>
<rect x="921" y="602" width="7" height="1"/>
<rect x="921" y="597" width="3" height="1"/>
<rect x="921" y="592" width="7" height="1"/>
<rect x="921" y="586" width="3" height="1"/>
<rect x="921" y="581" width="7" height="1"/>
<rect x="921" y="576" width="3" height="1"/>
<rect x="921" y="571" width="7" height="1"/>
<rect x="921" y="566" width="3" height="1"/>
<rect x="39" y="613" width="1" height="13"/>
<rect x="83" y="613" width="1" height="13"/>
<rect x="118" y="613" width="1" height="25"/>
<rect x="162" y="613" width="1" height="13"/>
<rect x="206" y="613" width="1" height="13"/>
<rect x="250" y="613" width="1" height="13"/>
<rect x="293" y="613" width="1" height="25"/>
<rect x="337" y="613" width="1" height="13"/>
<rect x="381" y="613" width="1" height="13"/>
<rect x="425" y="613" width="1" height="13"/>
<rect x="443" y="613" width="1" height="13"/>
<rect x="478" y="613" width="1" height="13"/>
<rect x="522" y="613" width="1" height="13"/>
<rect x="565" y="613" width="1" height="13"/>
<rect x="609" y="613" width="1" height="13"/>
<rect x="653" y="613" width="1" height="25"/>
<rect x="697" y="613" width="1" height="13"/>
<rect x="741" y="613" width="1" height="13"/>
<rect x="785" y="613" width="1" height="13"/>
<rect x="828" y="613" width="1" height="25"/>
<rect x="872" y="613" width="1" height="13"/>
<rect x="916" y="613" width="1" height="13"/>
<rect x="460" y="613" width="1" height="25"/>
</g>
<text transform="translate(958 30.8) scale(0.97 1)" font-size="10.3" fill="#000" stroke="#000" stroke-width="0.15" text-anchor="end">15000</text>
<text transform="translate(958 56.0) scale(0.97 1)" font-size="10.3" fill="#000" stroke="#000" stroke-width="0.15" text-anchor="end">10000</text>
<text transform="translate(958 107.0) scale(0.97 1)" font-size="10.3" fill="#000" stroke="#000" stroke-width="0.15" text-anchor="end">50</text>
<text transform="translate(958 546.0) scale(0.97 1)" font-size="10.3" fill="#000" stroke="#000" stroke-width="0.15" text-anchor="end">1.55</text>
<text transform="translate(958 524.6) scale(0.97 1)" font-size="10.3" fill="#000" stroke="#000" stroke-width="0.15" text-anchor="end">1.60</text>
<text transform="translate(958 503.2) scale(0.97 1)" font-size="10.3" fill="#000" stroke="#000" stroke-width="0.15" text-anchor="end">1.65</text>
<text transform="translate(958 481.9) scale(0.97 1)" font-size="10.3" fill="#000" stroke="#000" stroke-width="0.15" text-anchor="end">1.70</text>
<text transform="translate(958 460.5) scale(0.97 1)" font-size="10.3" fill="#000" stroke="#000" stroke-width="0.15" text-anchor="end">1.75</text>
<text transform="translate(958 439.2) scale(0.97 1)" font-size="10.3" fill="#000" stroke="#000" stroke-width="0.15" text-anchor="end">1.80</text>
<text transform="translate(958 417.9) scale(0.97 1)" font-size="10.3" fill="#000" stroke="#000" stroke-width="0.15" text-anchor="end">1.85</text>
<text transform="translate(958 396.5) scale(0.97 1)" font-size="10.3" fill="#000" stroke="#000" stroke-width="0.15" text-anchor="end">1.90</text>
<text transform="translate(958 375.1) scale(0.97 1)" font-size="10.3" fill="#000" stroke="#000" stroke-width="0.15" text-anchor="end">1.95</text>
<text transform="translate(958 353.8) scale(0.97 1)" font-size="10.3" fill="#000" stroke="#000" stroke-width="0.15" text-anchor="end">2.00</text>
<text transform="translate(958 332.5) scale(0.97 1)" font-size="10.3" fill="#000" stroke="#000" stroke-width="0.15" text-anchor="end">2.05</text>
<text transform="translate(958 311.1) scale(0.97 1)" font-size="10.3" fill="#000" stroke="#000" stroke-width="0.15" text-anchor="end">2.10</text>
<text transform="translate(958 289.8) scale(0.97 1)" font-size="10.3" fill="#000" stroke="#000" stroke-width="0.15" text-anchor="end">2.15</text>
<text transform="translate(958 268.4) scale(0.97 1)" font-size="10.3" fill="#000" stroke="#000" stroke-width="0.15" text-anchor="end">2.20</text>
<text transform="translate(958 247.0) scale(0.97 1)" font-size="10.3" fill="#000" stroke="#000" stroke-width="0.15" text-anchor="end">2.25</text>
<text transform="translate(958 225.7) scale(0.97 1)" font-size="10.3" fill="#000" stroke="#000" stroke-width="0.15" text-anchor="end">2.30</text>
<text transform="translate(958 204.3) scale(0.97 1)" font-size="10.3" fill="#000" stroke="#000" stroke-width="0.15" text-anchor="end">2.35</text>
<text transform="translate(958 183.0) scale(0.97 1)" font-size="10.3" fill="#000" stroke="#000" stroke-width="0.15" text-anchor="end">2.40</text>
<text transform="translate(958 161.7) scale(0.97 1)" font-size="10.3" fill="#000" stroke="#000" stroke-width="0.15" text-anchor="end">2.45</text>
<text transform="translate(958 575.9) scale(0.97 1)" font-size="10.3" fill="#000" stroke="#000" stroke-width="0.15" text-anchor="end">40000</text>
<text transform="translate(958 586.2) scale(0.97 1)" font-size="10.3" fill="#000" stroke="#000" stroke-width="0.15" text-anchor="end">30000</text>
<text transform="translate(958 607.0) scale(0.97 1)" font-size="10.3" fill="#000" stroke="#000" stroke-width="0.15" text-anchor="end">10000</text>
<rect x="922.5" y="64.5" width="23" height="11" fill="#fff" stroke="#000" stroke-width="1" shape-rendering="crispEdges"/>
<text transform="translate(924.3 72.3) scale(0.97 1)" font-size="7" fill="#000" stroke="#000" stroke-width="0.15" textLength="20.62" lengthAdjust="spacingAndGlyphs">x 1000</text>
<rect x="921.5" y="602.5" width="20" height="11" fill="#fff" stroke="#000" stroke-width="1" shape-rendering="crispEdges"/>
<rect x="921" y="613" width="22" height="3" fill="#fff"/>
<text transform="translate(924 610.4) scale(0.97 1)" font-size="7" fill="#000" stroke="#000" stroke-width="0.15" textLength="16.19" lengthAdjust="spacingAndGlyphs">x 100</text>
<text transform="translate(383 11.8) scale(0.97 1)" font-size="10.3" fill="#000" stroke="#000" stroke-width="0.15" textLength="159.79" lengthAdjust="spacingAndGlyphs">On Balance Volume (13,112,314.0)</text>
<text transform="translate(386.5 85.6) scale(0.97 1)" font-size="10.3" fill="#000" stroke="#000" stroke-width="0.15" textLength="151.55" lengthAdjust="spacingAndGlyphs">Relative Strength Index(45.2012)</text>
<text transform="translate(319 152.7) scale(0.97 1)" font-size="10.3" fill="#000" stroke="#000" stroke-width="0.15" textLength="291.75" lengthAdjust="spacingAndGlyphs">1 SONAE.COM(1.71000, 1.76000, 1.71000, 1.73000, +0.03000)</text>
<text transform="translate(420.2 575.1) scale(0.97 1)" font-size="10.3" fill="#000" stroke="#000" stroke-width="0.15" textLength="81.75" lengthAdjust="spacingAndGlyphs">Volume (481,254)</text>
<text transform="translate(-1.1 622.7) scale(0.97 1)" font-size="10.3" fill="#000" stroke="#000" stroke-width="0.15">14</text>
<text transform="translate(41.1 622.7) scale(0.97 1)" font-size="10.3" fill="#000" stroke="#000" stroke-width="0.15">21</text>
<text transform="translate(84.7 622.7) scale(0.97 1)" font-size="10.3" fill="#000" stroke="#000" stroke-width="0.15">28</text>
<text transform="translate(119.9 622.7) scale(0.97 1)" font-size="10.3" fill="#000" stroke="#000" stroke-width="0.15">4</text>
<text transform="translate(163.9 622.7) scale(0.97 1)" font-size="10.3" fill="#000" stroke="#000" stroke-width="0.15">11</text>
<text transform="translate(207.6 622.7) scale(0.97 1)" font-size="10.3" fill="#000" stroke="#000" stroke-width="0.15">18</text>
<text transform="translate(251.8 622.7) scale(0.97 1)" font-size="10.3" fill="#000" stroke="#000" stroke-width="0.15">25</text>
<text transform="translate(295.1 622.7) scale(0.97 1)" font-size="10.3" fill="#000" stroke="#000" stroke-width="0.15">2</text>
<text transform="translate(339.1 622.7) scale(0.97 1)" font-size="10.3" fill="#000" stroke="#000" stroke-width="0.15">9</text>
<text transform="translate(383.4 622.7) scale(0.97 1)" font-size="10.3" fill="#000" stroke="#000" stroke-width="0.15">16</text>
<text transform="translate(426 622.7) scale(0.97 1)" font-size="10.3" fill="#000" stroke="#000" stroke-width="0.15">23</text>
<text transform="translate(444 622.7) scale(0.97 1)" font-size="10.3" fill="#000" stroke="#000" stroke-width="0.15">30</text>
<text transform="translate(478.8 622.7) scale(0.97 1)" font-size="10.3" fill="#000" stroke="#000" stroke-width="0.15">6</text>
<text transform="translate(523.5 622.7) scale(0.97 1)" font-size="10.3" fill="#000" stroke="#000" stroke-width="0.15">13</text>
<text transform="translate(566.4 622.7) scale(0.97 1)" font-size="10.3" fill="#000" stroke="#000" stroke-width="0.15">20</text>
<text transform="translate(611 622.7) scale(0.97 1)" font-size="10.3" fill="#000" stroke="#000" stroke-width="0.15">27</text>
<text transform="translate(654.9 622.7) scale(0.97 1)" font-size="10.3" fill="#000" stroke="#000" stroke-width="0.15">3</text>
<text transform="translate(698.8 622.7) scale(0.97 1)" font-size="10.3" fill="#000" stroke="#000" stroke-width="0.15">10</text>
<text transform="translate(742.5 622.7) scale(0.97 1)" font-size="10.3" fill="#000" stroke="#000" stroke-width="0.15">17</text>
<text transform="translate(785.9 622.7) scale(0.97 1)" font-size="10.3" fill="#000" stroke="#000" stroke-width="0.15">24</text>
<text transform="translate(829.5 622.7) scale(0.97 1)" font-size="10.3" fill="#000" stroke="#000" stroke-width="0.15">3</text>
<text transform="translate(874 622.7) scale(0.97 1)" font-size="10.3" fill="#000" stroke="#000" stroke-width="0.15">10</text>
<text transform="translate(917.8 622.7) scale(0.97 1)" font-size="10.3" fill="#000" stroke="#000" stroke-width="0.15">17</text>
<text transform="translate(120.3 636.7) scale(0.97 1)" font-size="10.3" fill="#000" stroke="#000" stroke-width="0.15">November</text>
<text transform="translate(295.3 636.7) scale(0.97 1)" font-size="10.3" fill="#000" stroke="#000" stroke-width="0.15">December</text>
<text transform="translate(461.3 636.7) scale(0.97 1)" font-size="10.3" fill="#000" stroke="#000" stroke-width="0.15">2003</text>
<text transform="translate(655 636.7) scale(0.97 1)" font-size="10.3" fill="#000" stroke="#000" stroke-width="0.15">February</text>
<text transform="translate(830 636.7) scale(0.97 1)" font-size="10.3" fill="#000" stroke="#000" stroke-width="0.15">March</text>
<rect x="920" y="614" width="42" height="24" fill="#fff"/>
</svg>
</body></html>
